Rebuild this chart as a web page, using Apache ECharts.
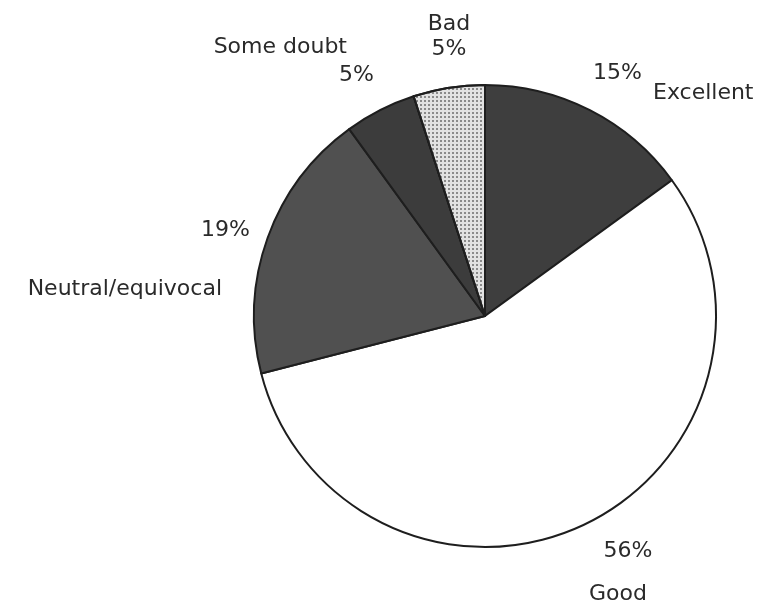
<!doctype html>
<html>
<head>
  <meta charset="utf-8">
  <title>Pie</title>
  <script src="https://cdn.jsdelivr.net/npm/echarts@6/dist/echarts.min.js"></script>
  <style>
    html, body { margin: 0; padding: 0; background: #fff; }
  </style>
</head>
<body>
  <div id="main" style="width:766px;height:608px;"></div>
  <script>
  // data, clockwise from 12 o'clock
  var names = ['Excellent', 'Good', 'Neutral/equivocal', 'Some doubt', 'Bad'];
  var values = [15, 56, 19, 5, 5];
  var percentLabels = ['15%', '56%', '19%', '5%', '5%'];

  var fills = ['#3e3e3e', '#ffffff', '#505050', '#3c3c3c', '#e2e2e2'];

  // where each label block sits: [x, top, align, lineHeight, nameFirst, pctPad, namePad]
  var labelSpots = [
    [593, 63, 'left', 20, false, [0, 0, 0, 0], [0, 0, 0, 60]],
    [623, 530, 'center', 43, false, [0, 0, 0, 10], [0, 10, 0, 0]],
    [250, 201, 'right', 59, false, [0, 0, 0, 0], [0, 28, 0, 0]],
    [374, 33, 'right', 28, true, [0, 0, 0, 0], [0, 27, 0, 0]],
    [449, 12, 'center', 25, true, [0, 0, 0, 0], [0, 0, 0, 0]]
  ];

  var pieData = [];
  for (var i = 0; i < names.length; i++) {
    var s = labelSpots[i];
    var item = {
      name: names[i],
      value: values[i],
      itemStyle: { color: fills[i] },
      label: {
        formatter: s[4] ? '{n|{b}}\n{p|' + percentLabels[i] + '}' : '{p|' + percentLabels[i] + '}\n{n|{b}}',
        rich: {
          p: { fontSize: 22, lineHeight: s[3], padding: s[5], color: '#2a2a2a', fontFamily: 'DejaVu Sans' },
          n: { fontSize: 22, lineHeight: s[3], padding: s[6], color: '#2a2a2a', fontFamily: 'DejaVu Sans' }
        }
      }
    };
    if (names[i] == 'Bad') {
      item.itemStyle.decal = {
        symbol: 'circle',
        symbolSize: 1,
        color: 'rgba(70,70,70,0.75)',
        dashArrayX: [1.5, 1.5],
        dashArrayY: [1.5, 1.5],
        rotation: 0
      };
    }
    pieData.push(item);
  }

  var option = {
    backgroundColor: '#fff',
    animation: false,
    series: [{
      type: 'pie',
      center: [485, 316],
      radius: [0, 231],
      startAngle: 90,
      clockwise: true,
      label: { show: true, position: 'outside' },
      labelLine: { show: false },
      labelLayout: function (p) {
        var s = labelSpots[p.dataIndex];
        return { x: s[0], y: s[1], align: s[2], verticalAlign: 'top' };
      },
      itemStyle: { borderColor: '#1e1e1e', borderWidth: 2 },
      emphasis: { disabled: true },
      data: pieData
    }]
  };

  var myChart = echarts.init(document.getElementById('main'));
  myChart.setOption(option);
  </script>
</body>
</html>
